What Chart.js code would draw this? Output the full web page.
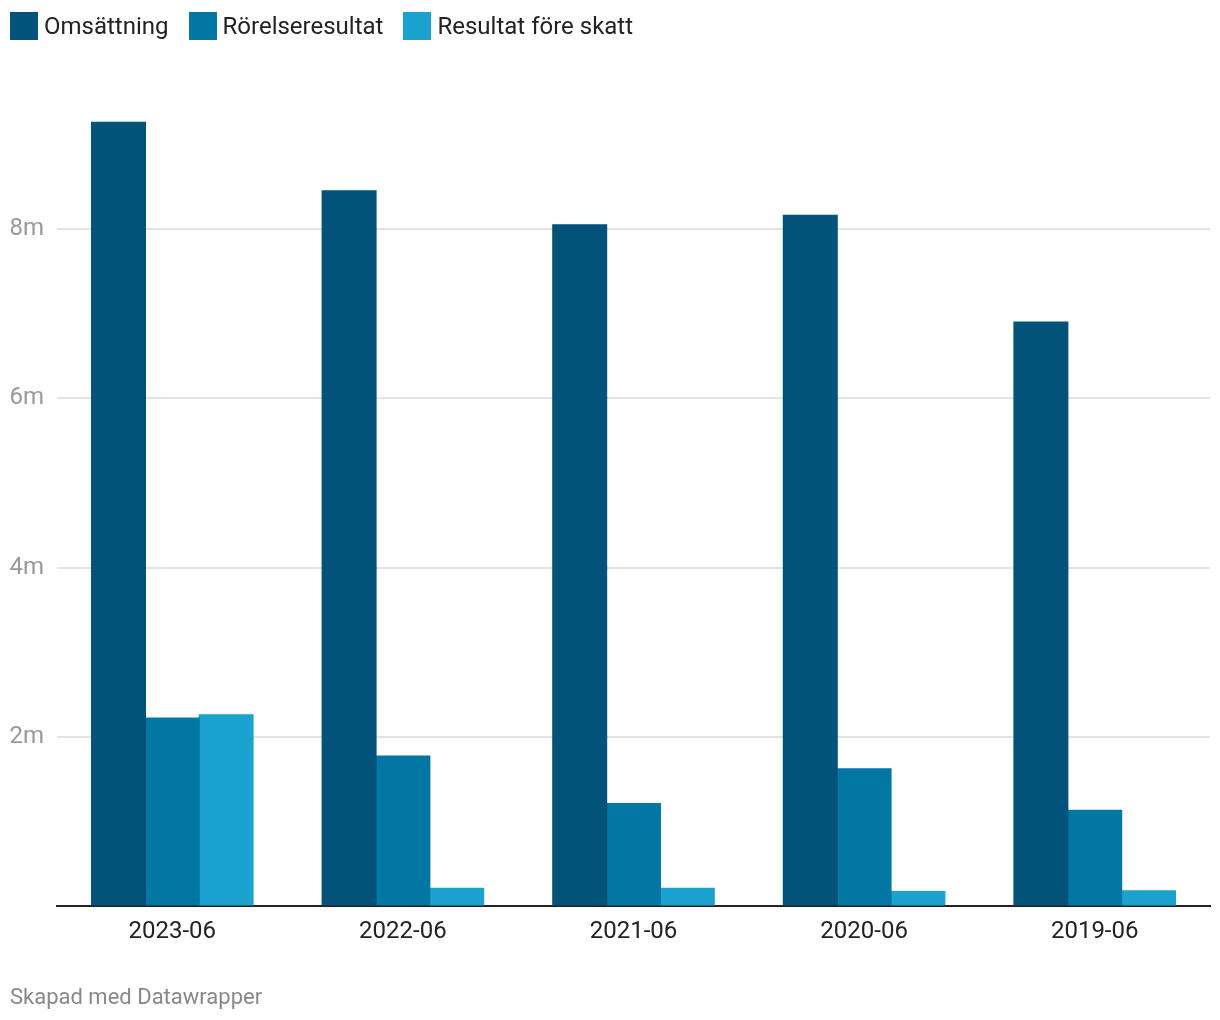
<!DOCTYPE html>
<html lang="sv">
<head>
<meta charset="utf-8">
<script src="https://cdn.jsdelivr.net/npm/chart.js@4/dist/chart.umd.min.js"></script>
<style>
  html, body { margin: 0; padding: 0; background: #fff; }
  body { width: 1220px; height: 1020px; position: relative; font-family: Roboto, sans-serif; overflow: hidden; }
  #wrap { position: absolute; left: 0; top: 0; width: 1220px; height: 1020px; }
  #legend { position: absolute; left: 10px; top: 12px; display: flex; font-size: 24px; color: #222; }
  .item { display: flex; align-items: center; margin-right: 20px; }
  .box { width: 28px; height: 28px; margin-right: 6px; }
  #footer { position: absolute; left: 10px; top: 984px; font-size: 22px; color: #888; }
</style>
</head>
<body>
<div id="wrap"><canvas id="chart" width="1220" height="1020"></canvas></div>
<div id="legend"></div>
<div id="footer">Skapad med Datawrapper</div>
<script>
// Données (en millions)
const years = ['2023-06', '2022-06', '2021-06', '2020-06', '2019-06'];
const omsattning = [9.26, 8.45, 8.05, 8.16, 6.90];
const rorelseresultat = [2.22, 1.77, 1.21, 1.62, 1.13];
const resultatForeSkatt = [2.26, 0.21, 0.21, 0.17, 0.18];
const seriesNames = ['Omsättning', 'Rörelseresultat', 'Resultat före skatt'];
const colors = ['#02527a', '#0377a3', '#1ba2cf'];
const yTicks = [2, 4, 6, 8];

const toM = arr => arr.map(v => v * 1e6);

// Légende en HTML
const legend = document.getElementById('legend');
seriesNames.forEach(function(name, i) {
    const item = document.createElement('div');
    item.className = 'item';
    item.innerHTML = '<span class="box" style="background:' + colors[i] + '"></span>' + name;
    legend.appendChild(item);
});

const ctx = document.getElementById('chart').getContext('2d');
new Chart(ctx, {
    type: 'bar',
    data: {
        labels: years,
        datasets: [omsattning, rorelseresultat, resultatForeSkatt].map(function(d, i) {
            return {
                label: seriesNames[i],
                data: toM(d),
                backgroundColor: colors[i],
                borderWidth: 0,
                inflateAmount: 0.6,
                barPercentage: 1,
                categoryPercentage: 0.7
            };
        })
    },
    options: {
        responsive: false,
        animation: false,
        layout: { padding: { left: 10, right: 10, top: 119, bottom: 0 } },
        plugins: { legend: { display: false }, tooltip: { enabled: false } },
        scales: {
            x: {
                grid: { display: false, drawTicks: false },
                border: { display: true, color: '#222', width: 2 },
                ticks: { color: '#222', font: { family: 'Roboto', size: 24 }, padding: 12 },
                afterFit: function(scale) { scale.height = 114; }
            },
            y: {
                min: 0,
                max: 9.3e6,
                border: { display: false },
                grid: {
                    drawTicks: false,
                    color: function(c) { return c.tick && c.tick.value === 0 ? 'rgba(0,0,0,0)' : '#e3e3e3'; },
                    lineWidth: 2
                },
                afterBuildTicks: function(scale) {
                    scale.ticks = [0].concat(yTicks).map(v => ({ value: v * 1e6 }));
                },
                ticks: {
                    color: '#999',
                    font: { family: 'Roboto', size: 24 },
                    padding: 13,
                    callback: function(value) {
                        return value === 0 ? '' : (value / 1e6) + 'm';
                    }
                },
                afterFit: function(scale) { scale.width = 47; }
            }
        }
    }
});
</script>
</body>
</html>
